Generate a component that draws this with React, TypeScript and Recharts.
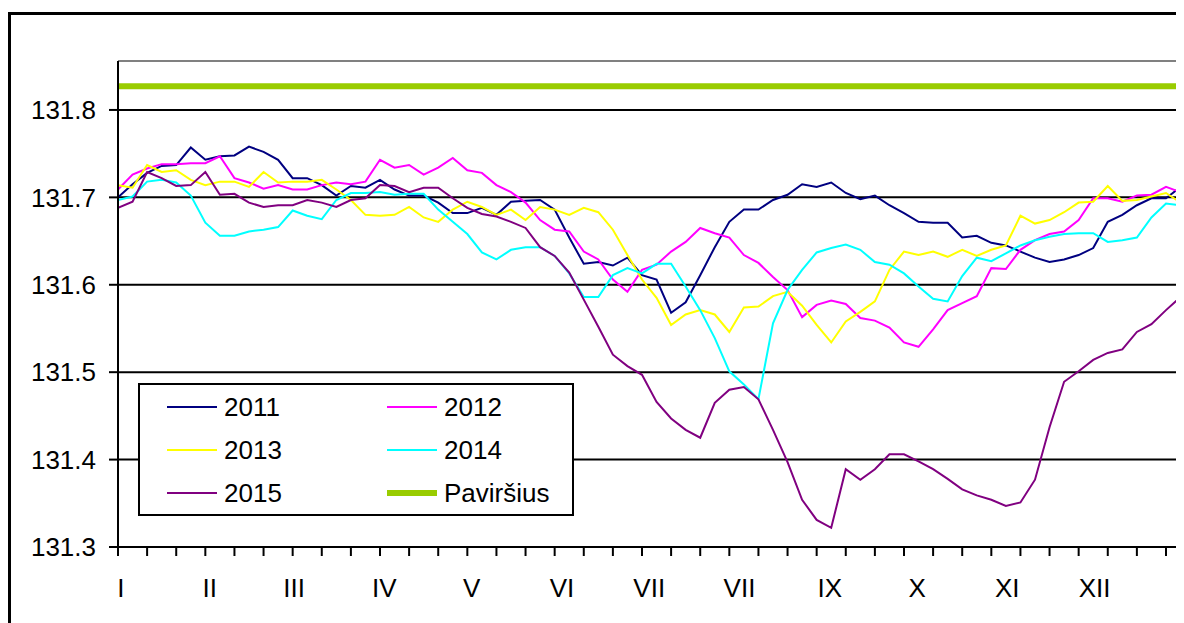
import React from 'react';
import { LineChart, Line, XAxis, YAxis, CartesianGrid, ReferenceLine } from 'recharts';

// day of year, every 5 days
const days = [
  0, 5, 10, 15, 20, 25, 30, 35, 40, 45,
  50, 55, 60, 65, 70, 75, 80, 85, 90, 95,
  100, 105, 110, 115, 120, 125, 130, 135, 140, 145,
  150, 155, 160, 165, 170, 175, 180, 185, 190, 195,
  200, 205, 210, 215, 220, 225, 230, 235, 240, 245,
  250, 255, 260, 265, 270, 275, 280, 285, 290, 295,
  300, 305, 310, 315, 320, 325, 330, 335, 340, 345,
  350, 355, 360, 365,
];

const level2011 = [
  131.700, 131.715, 131.728, 131.736, 131.737, 131.757, 131.743, 131.747, 131.748, 131.758,
  131.752, 131.743, 131.722, 131.722, 131.714, 131.702, 131.713, 131.711, 131.720, 131.709,
  131.702, 131.702, 131.694, 131.682, 131.682, 131.688, 131.680, 131.695, 131.696, 131.697,
  131.686, 131.654, 131.624, 131.626, 131.622, 131.631, 131.611, 131.606, 131.568, 131.580,
  131.611, 131.643, 131.672, 131.686, 131.686, 131.697, 131.703, 131.715, 131.712, 131.717,
  131.705, 131.698, 131.702, 131.691, 131.682, 131.672, 131.671, 131.671, 131.654, 131.656,
  131.648, 131.645, 131.638, 131.631, 131.626, 131.629, 131.634, 131.642, 131.672, 131.680,
  131.691, 131.699, 131.699, 131.712,
];

const level2012 = [
  131.709, 131.726, 131.733, 131.738, 131.738, 131.739, 131.739, 131.747, 131.722, 131.717,
  131.710, 131.714, 131.709, 131.709, 131.714, 131.717, 131.715, 131.718, 131.743, 131.734,
  131.737, 131.726, 131.734, 131.745, 131.731, 131.728, 131.714, 131.706, 131.694, 131.674,
  131.663, 131.661, 131.638, 131.629, 131.606, 131.592, 131.617, 131.623, 131.638, 131.649,
  131.665, 131.659, 131.654, 131.634, 131.625, 131.609, 131.594, 131.563, 131.577, 131.582,
  131.578, 131.562, 131.559, 131.551, 131.534, 131.529, 131.549, 131.571, 131.579, 131.587,
  131.619, 131.618, 131.640, 131.651, 131.658, 131.661, 131.674, 131.699, 131.699, 131.695,
  131.702, 131.703, 131.712, 131.706,
];

const level2013 = [
  131.714, 131.711, 131.737, 131.729, 131.731, 131.720, 131.714, 131.718, 131.718, 131.712,
  131.729, 131.717, 131.718, 131.718, 131.720, 131.709, 131.697, 131.680, 131.679, 131.680,
  131.689, 131.677, 131.672, 131.686, 131.695, 131.689, 131.680, 131.686, 131.674, 131.689,
  131.686, 131.680, 131.688, 131.683, 131.663, 131.634, 131.606, 131.585, 131.554, 131.566,
  131.571, 131.566, 131.546, 131.574, 131.575, 131.587, 131.592, 131.576, 131.554, 131.534,
  131.558, 131.569, 131.581, 131.617, 131.638, 131.634, 131.638, 131.632, 131.640, 131.633,
  131.640, 131.645, 131.679, 131.670, 131.674, 131.683, 131.694, 131.695, 131.713, 131.696,
  131.697, 131.701, 131.705, 131.694,
];

const level2014 = [
  131.697, 131.701, 131.718, 131.720, 131.717, 131.702, 131.671, 131.656, 131.656, 131.661,
  131.663, 131.666, 131.685, 131.679, 131.675, 131.697, 131.705, 131.705, 131.706, 131.703,
  131.704, 131.704, 131.686, 131.672, 131.658, 131.637, 131.629, 131.640, 131.643, 131.643,
  131.633, 131.613, 131.586, 131.586, 131.611, 131.619, 131.613, 131.624, 131.624, 131.598,
  131.571, 131.539, 131.501, 131.486, 131.469, 131.556, 131.594, 131.617, 131.637, 131.642,
  131.646, 131.640, 131.626, 131.623, 131.613, 131.598, 131.584, 131.581, 131.610, 131.631,
  131.627, 131.636, 131.645, 131.651, 131.655, 131.658, 131.659, 131.659, 131.649, 131.651,
  131.654, 131.677, 131.693, 131.691,
];

const level2015 = [
  131.688, 131.695, 131.729, 131.722, 131.713, 131.714, 131.729, 131.703, 131.704, 131.694,
  131.689, 131.691, 131.691, 131.697, 131.694, 131.689, 131.697, 131.699, 131.714, 131.713,
  131.706, 131.711, 131.711, 131.699, 131.688, 131.681, 131.678, 131.672, 131.665, 131.643,
  131.633, 131.614, 131.583, 131.552, 131.520, 131.507, 131.497, 131.466, 131.447, 131.434,
  131.425, 131.465, 131.480, 131.483, 131.469, 131.434, 131.397, 131.354, 131.331, 131.322,
  131.389, 131.377, 131.389, 131.406, 131.406, 131.398, 131.389, 131.378, 131.366, 131.359,
  131.354, 131.347, 131.351, 131.377, 131.437, 131.489, 131.501, 131.514, 131.522, 131.526,
  131.546, 131.555, 131.571, 131.586,
];

// ground surface level
const surfaceLevel = 131.827;

const dekadTicks = [
  0, 10, 20, 30, 40, 50, 60, 70, 80, 90, 100, 110, 120, 130, 140, 150, 160, 170, 180,
  190, 200, 210, 220, 230, 240, 250, 260, 270, 280, 290, 300, 310, 320, 330, 340, 350, 360,
];
const monthStarts = [1, 31.5, 60.5, 91.5, 121.5, 152.5, 182.5, 213.5, 244.5, 274.5, 305.5, 335.5];
const monthLabels = ['I', 'II', 'III', 'IV', 'V', 'VI', 'VII', 'VII', 'IX', 'X', 'XI', 'XII'];
const yTicks = [131.3, 131.4, 131.5, 131.6, 131.7, 131.8];
const yMax = 131.856;
const xMax = 365.5;

const series = [
  { key: 'y2011', name: '2011', color: '#000080', values: level2011 },
  { key: 'y2012', name: '2012', color: '#FF00FF', values: level2012 },
  { key: 'y2013', name: '2013', color: '#FFFF00', values: level2013 },
  { key: 'y2014', name: '2014', color: '#00FFFF', values: level2014 },
  { key: 'y2015', name: '2015', color: '#800080', values: level2015 },
];
const surfaceColor = '#99CC00';

const chartData = days.map((day, i) => {
  const row: any = { day, surface: surfaceLevel };
  series.forEach((s) => {
    row[s.key] = s.values[i];
  });
  return row;
});

const FONT = '"Liberation Sans", Arial, sans-serif';

const legendItems = [
  ...series.map((s) => ({ name: s.name, color: s.color, thick: 2 })),
  { name: 'Paviršius', color: surfaceColor, thick: 6 },
];

const ChartLegend = () => (
  <div
    style={{
      position: 'absolute',
      left: 130,
      top: 375,
      width: 436,
      height: 133,
      boxSizing: 'border-box',
      border: '2px solid #000',
      background: '#fff',
      fontFamily: FONT,
      fontSize: 26,
      color: '#000',
    }}
  >
    {legendItems.map((item, i) => {
      const col = i % 2;
      const row = Math.floor(i / 2);
      const rowCenters = [22, 65, 108];
      return (
        <div
          key={item.name}
          style={{
            position: 'absolute',
            left: col === 0 ? 27 : 247,
            top: rowCenters[row] - 16,
            height: 32,
            display: 'flex',
            alignItems: 'center',
            whiteSpace: 'nowrap',
          }}
        >
          <span
            style={{
              display: 'inline-block',
              width: 50,
              height: item.thick,
              background: item.color,
              marginRight: 7,
            }}
          />
          <span style={{ lineHeight: 1 }}>{item.name}</span>
        </div>
      );
    })}
  </div>
);

const App = () => {
  return (
    <div style={{ position: 'relative', width: 1176, height: 615, overflow: 'hidden', background: '#fff' }}>
      {/* outer frame, cut off at the right and bottom like in the source */}
      <div
        style={{
          position: 'absolute',
          left: 0,
          top: 4,
          width: 1220,
          height: 700,
          border: '3px solid #000',
          boxSizing: 'border-box',
        }}
      />
      <LineChart
        width={1176}
        height={615}
        data={chartData}
        margin={{ top: 53, right: 2, left: 0, bottom: 0 }}
        style={{ position: 'absolute', left: 0, top: 0, fontFamily: FONT }}
      >
        <CartesianGrid xAxisId="days" vertical={false} stroke="#000" strokeWidth={2} />
        <XAxis
          xAxisId="days"
          dataKey="day"
          type="number"
          domain={[0, xMax]}
          allowDataOverflow
          ticks={dekadTicks}
          interval={0}
          height={10}
          tickSize={9}
          tick={() => <g />}
          axisLine={{ stroke: '#000', strokeWidth: 2 }}
          tickLine={{ stroke: '#000', strokeWidth: 2 }}
        />
        <XAxis
          xAxisId="months"
          dataKey="day"
          type="number"
          domain={[0, xMax]}
          allowDataOverflow
          ticks={monthStarts}
          interval={0}
          height={66}
          axisLine={false}
          tickLine={false}
          tickSize={0}
          tickMargin={22}
          tickFormatter={(v: number) => monthLabels[monthStarts.indexOf(v)]}
          tick={{ fill: '#000', fontSize: 26, fontFamily: FONT }}
        />
        <YAxis
          type="number"
          domain={[131.3, yMax]}
          allowDataOverflow
          ticks={yTicks}
          interval={0}
          width={110}
          tickSize={9}
          tickMargin={13}
          tickFormatter={(v: number) => v.toFixed(1)}
          tick={{ fill: '#000', fontSize: 26, fontFamily: FONT }}
          axisLine={{ stroke: '#000', strokeWidth: 2 }}
          tickLine={{ stroke: '#000', strokeWidth: 2 }}
        />
        {/* plot area frame (top and right) */}
        <ReferenceLine xAxisId="days" y={yMax} stroke="#808080" strokeWidth={2} />
        <ReferenceLine xAxisId="days" x={xMax} stroke="#808080" strokeWidth={2} />
        {series.map((s) => (
          <Line
            key={s.key}
            xAxisId="days"
            type="linear"
            dataKey={s.key}
            name={s.name}
            stroke={s.color}
            strokeWidth={2}
            dot={false}
            isAnimationActive={false}
          />
        ))}
        <Line
          xAxisId="days"
          type="linear"
          dataKey="surface"
          name="Paviršius"
          stroke={surfaceColor}
          strokeWidth={6}
          dot={false}
          isAnimationActive={false}
        />
      </LineChart>
      <ChartLegend />
    </div>
  );
};

export default App;
